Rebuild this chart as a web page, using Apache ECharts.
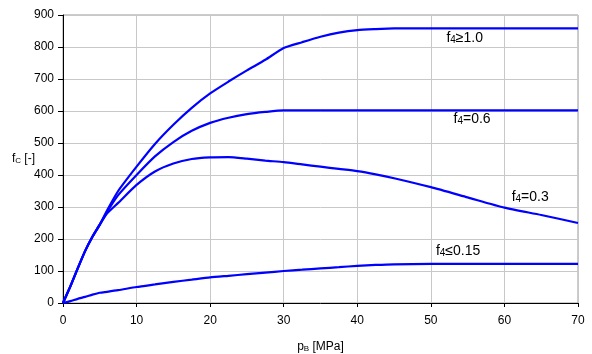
<!DOCTYPE html>
<html>
<head>
<meta charset="utf-8">
<script src="https://cdn.jsdelivr.net/npm/echarts@6/dist/echarts.min.js"></script>
<style>html,body{margin:0;padding:0;background:#fff}#c{width:592px;height:354px}</style>
</head>
<body>
<div id="c"></div>
<script>
// Data
const pB = [0,1,2,3,4,5,6,7.5,10,12.5,15,17.5,20,22.5,25,27.5,30,32.5,35,37.5,40,42.5,45,50,55,60,65,70];
const fc_f4_10  = [0,52,108,162,207,245,290,350,426,497,557,610,655,692,727,760,797,815,832,845,853,856,858,858,858,858,858,858];
const fc_f4_06  = [0,52,108,162,207,245,285,337,400,458,503,538,563,579,590,597,602,602,602,602,602,602,602,602,602,602,602,602];
const fc_f4_03  = [0,52,108,162,207,245,280,313,369,411,436,450,455,456,451,445,440,433,426,419,412,402,390,362,330,298,275,250];
const fc_f4_015 = [0,6,13,19,26,32,35,40,50,58,66,73,80,85,90,95,100,104,108,112,116,119,121,122,122,122,122,122];
const xTicks = [0,10,20,30,40,50,60,70];
const yTicks = [0,100,200,300,400,500,600,700,800,900];
const seriesNames = ['f4≥1.0','f4=0.6','f4=0.3','f4≤0.15'];
const labelTexts = ['{a|f}{s|4}{a|≥1.0}','{a|f}{s|4}{a|=0.6}','{a|f}{s|4}{a|=0.3}','{a|f}{s|4}{a|≤0.15}'];

const zip = (xs, ys) => xs.map((x, i) => [x, ys[i]]);
const allVals = [fc_f4_10, fc_f4_06, fc_f4_03, fc_f4_015];
const labelAt = [[54.6, 828], [55.6, 575], [63.5, 331], [53.7, 162]];

const FONT = 'Liberation Sans, Arial, sans-serif';
const rich = {
  a: {fontSize: 14, color: '#000', fontFamily: FONT, lineHeight: 18},
  s: {fontSize: 10, color: '#000', fontFamily: FONT, lineHeight: 18, padding: [5, 0, 0, 0]}
};

const chart = echarts.init(document.getElementById('c'), null, {renderer: 'canvas'});
chart.setOption({
  animation: false,
  backgroundColor: '#fff',
  grid: {left: 63, right: 14, top: 15, bottom: 51, show: true, borderColor: '#999', borderWidth: 1, outerBoundsMode: 'none', containLabel: false},
  xAxis: {
    type: 'value', min: xTicks[0], max: xTicks[xTicks.length - 1], interval: 10,
    axisLine: {show: true, onZero: false, lineStyle: {color: '#000', width: 1}},
    axisTick: {show: true, length: 4, inside: false, lineStyle: {color: '#000'}},
    axisLabel: {margin: 12, fontSize: 12, color: '#000', fontFamily: FONT},
    splitLine: {show: true, lineStyle: {color: '#c8c8c8', width: 1}},
    name: '{a|p}{s|B}{a| [MPa]}', nameLocation: 'middle', nameGap: 36, nameMoveOverlap: false,
    nameTextStyle: {rich: {
      a: {fontSize: 12, color: '#000', fontFamily: FONT, lineHeight: 16},
      s: {fontSize: 8, color: '#000', fontFamily: FONT, lineHeight: 16, padding: [4, 0, 0, 0]}
    }}
  },
  yAxis: {
    type: 'value', min: yTicks[0], max: yTicks[yTicks.length - 1], interval: 100,
    axisLine: {show: true, lineStyle: {color: '#000', width: 1}},
    axisTick: {show: true, length: 5, inside: false, lineStyle: {color: '#000'}},
    axisLabel: {margin: 9, fontSize: 12, color: '#000', fontFamily: FONT},
    splitLine: {show: true, lineStyle: {color: '#c8c8c8', width: 1}},
    name: '{a|f}{s|C}{a| [-]}', nameLocation: 'middle', nameRotate: 0, nameGap: 28, nameMoveOverlap: false,
    nameTextStyle: {align: 'right', rich: {
      a: {fontSize: 12, color: '#000', fontFamily: FONT, lineHeight: 16},
      s: {fontSize: 8, color: '#000', fontFamily: FONT, lineHeight: 16, padding: [4, 0, 0, 0]}
    }}
  },
  series: allVals.map((vals, i) => ({
    name: seriesNames[i],
    type: 'line',
    data: zip(pB, vals),
    showSymbol: false,
    symbol: 'none',
    smooth: 0.2,
    lineStyle: {color: '#0000ff', width: 2.2},
    itemStyle: {color: '#0000ff'},
    z: 3,
    markPoint: {
      symbol: 'circle', symbolSize: 1,
      itemStyle: {color: 'rgba(0,0,0,0)'},
      label: {show: true, position: 'inside', formatter: labelTexts[i], rich: rich},
      data: [{coord: labelAt[i]}]
    }
  }))
});
</script>
</body>
</html>
